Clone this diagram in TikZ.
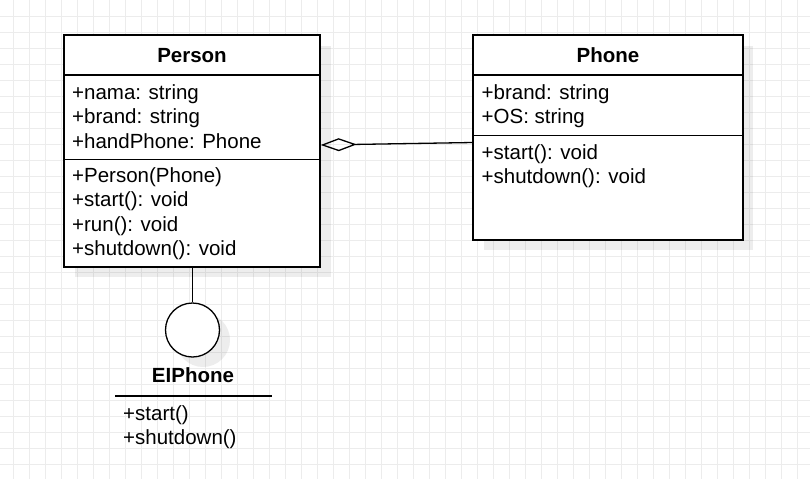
\documentclass[tikz,border=0pt]{standalone}
\usepackage{fontspec}
\setmainfont{Liberation Sans}
\usetikzlibrary{arrows.meta}
\definecolor{gridc}{RGB}{236,236,236}
\begin{document}
\begin{tikzpicture}[x=1pt,y=-1pt,
  classbox/.style={draw=black, line width=1.4pt, fill=white, inner sep=0pt},
  shadowbox/.style={fill=black, fill opacity=0.07},
  sepline/.style={draw=black, line width=1.4pt},
  conn/.style={draw=black, line width=1.3pt},
  txt/.style={anchor=base west, inner sep=0pt, font=\fontsize{20.5}{24}\selectfont},
  ttl/.style={anchor=base, inner sep=0pt, font=\fontsize{20.5}{24}\selectfont\bfseries},
  aggtip/.style={-{Diamond[open, length=36pt, width=13pt, line width=1.3pt]}}
]
% canvas
\useasboundingbox (0,0) rectangle (810,479);
\fill[white] (0,0) rectangle (810,479);
\foreach \gx in {13,29,...,813} \draw[gridc, line width=0.9pt] (\gx,0) -- (\gx,479);
\foreach \gy in {16,32,...,479} \draw[gridc, line width=0.9pt] (0,\gy) -- (810,\gy);

% shadows
\fill[shadowbox] (75,46) rectangle (331,277);
\fill[shadowbox] (484,46) rectangle (753,250);
\fill[shadowbox] (203,340) circle (27);

% Person class
\node[classbox, minimum width=256pt, minimum height=232pt] (person) at (192,151) {};
\draw[sepline] (person.west |- 0,75) -- (person.east |- 0,75);
\draw[sepline] (person.west |- 0,159.5) -- (person.east |- 0,159.5);
\node[ttl] (pname) at (192,62) {Person};
\node[txt] (pa1) at (72,99) {+nama: string};
\node[txt] (pa2) at (72,123.5) {+brand: string};
\node[txt] (pa3) at (72,148) {+handPhone: Phone};
\node[txt] (pm1) at (72,182) {+Person(Phone)};
\node[txt] (pm2) at (72,206.5) {+start(): void};
\node[txt] (pm3) at (72,231) {+run(): void};
\node[txt] (pm4) at (72,255.5) {+shutdown(): void};

% Phone class
\node[classbox, minimum width=270pt, minimum height=205pt] (phone) at (608,137.5) {};
\draw[sepline] (phone.west |- 0,75) -- (phone.east |- 0,75);
\draw[sepline] (phone.west |- 0,135.5) -- (phone.east |- 0,135.5);
\node[ttl] (phname) at (608,62) {Phone};
\node[txt] (pha1) at (481.5,99) {+brand: string};
\node[txt] (pha2) at (481.5,123.5) {+OS: string};
\node[txt] (phm1) at (481.5,159) {+start(): void};
\node[txt] (phm2) at (481.5,183.5) {+shutdown(): void};

% aggregation
\coordinate (aggL) at (320.7,145);
\coordinate (aggR) at (473,142.5);
\draw[conn, aggtip] (aggR) -- (aggL);

% interface lollipop
\node[draw=black, line width=1.3pt, fill=white, circle, minimum size=54pt, inner sep=0pt] (iface) at (192.5,330) {};
\draw[conn] (person.south -| iface.north) -- (iface.north);
\node[ttl] (iname) at (193,382.5) {EIPhone};
\coordinate (ilL) at (115,396);
\coordinate (ilR) at (271.5,396);
\draw[conn] (ilL) -- (ilR);
\node[txt] (im1) at (123,420) {+start()};
\node[txt] (im2) at (123,444) {+shutdown()};
\end{tikzpicture}
\end{document}
